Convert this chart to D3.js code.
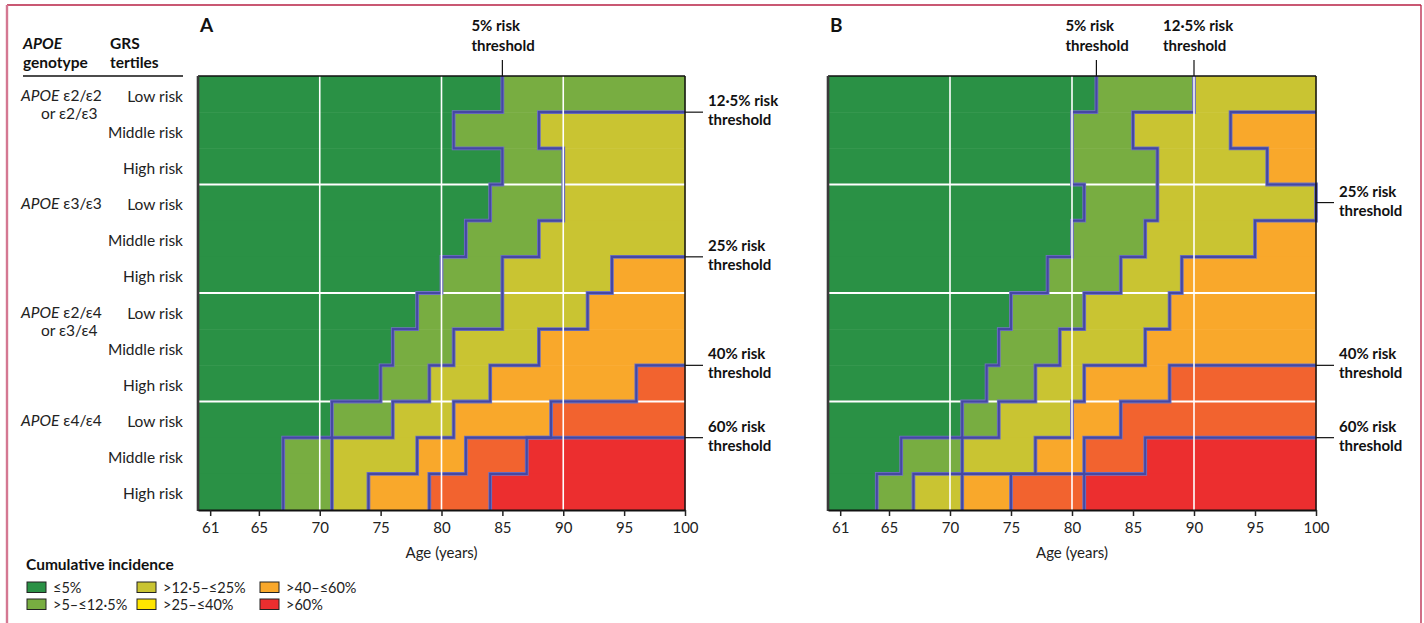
<!DOCTYPE html>
<html>
<head>
<meta charset="utf-8">
<script src="https://cdn.jsdelivr.net/npm/d3@7"></script>
<style>
  body { margin: 0; background: #fff; }
  svg { display: block; font-family: Lato, "Noto Sans", sans-serif; }
</style>
</head>
<body>
<svg id="chart" width="1424" height="623"></svg>
<script>
// ---- data -------------------------------------------------------------
const rowLabels = ["Low risk", "Middle risk", "High risk",
                   "Low risk", "Middle risk", "High risk",
                   "Low risk", "Middle risk", "High risk",
                   "Low risk", "Middle risk", "High risk"];
const genotypeRows = [0, 3, 6, 9];
const genotypeLine1 = ["ε2/ε2", "ε3/ε3", "ε2/ε4", "ε4/ε4"];
const genotypeLine2 = ["or ε2/ε3", "", "or ε3/ε4", ""];

const thresholdNames = ["5%", "12·5%", "25%", "40%", "60%"];
const ageTicks = [61, 65, 70, 75, 80, 85, 90, 95, 100];
const gridAges = [70, 80, 90];

// Age (years) at which cumulative incidence passes each threshold, per row.
// 100 means the threshold is not passed before age 100.
const panelA_t5   = [85, 81, 85, 84, 82, 80, 78, 76, 75, 71, 67, 67];
const panelA_t125 = [100, 88, 90, 90, 88, 85, 85, 81, 79, 76, 71, 71];
const panelA_t25  = [100, 100, 100, 100, 100, 94, 92, 88, 84, 81, 78, 74];
const panelA_t40  = [100, 100, 100, 100, 100, 100, 100, 100, 96, 89, 82, 79];
const panelA_t60  = [100, 100, 100, 100, 100, 100, 100, 100, 100, 100, 87, 84];

const panelB_t5   = [82, 80, 80, 81, 80, 78, 75, 74, 73, 71, 66, 64];
const panelB_t125 = [90, 85, 87, 87, 86, 84, 81, 79, 77, 74, 71, 67];
const panelB_t25  = [100, 93, 96, 100, 95, 89, 88, 86, 81, 80, 77, 71];
const panelB_t40  = [100, 100, 100, 100, 100, 100, 100, 100, 88, 84, 81, 75];
const panelB_t60  = [100, 100, 100, 100, 100, 100, 100, 100, 100, 100, 86, 81];

const bandColors = ["#2a9145", "#78ad41", "#c9c432", "#f9a82b", "#f2632f", "#ec2e2f"];

const legendLabels = ["≤5%", ">5–≤12·5%", ">12·5–≤25%", ">25–≤40%", ">40–≤60%", ">60%"];
const legendColors = ["#2a9145", "#78ad41", "#c9c432", "#ffe500", "#f9a82b", "#ec2e2f"];

// ---- drawing ----------------------------------------------------------
const svg = d3.select("#chart");

// figure frame
svg.append("line").attr("x1", 7).attr("x2", 1421).attr("y1", 5).attr("y2", 5)
  .attr("stroke", "#b72044").attr("stroke-width", 1.3);
svg.append("line").attr("x1", 7).attr("x2", 7).attr("y1", 5).attr("y2", 623)
  .attr("stroke", "#d47892").attr("stroke-width", 2.4);
svg.append("line").attr("x1", 1421).attr("x2", 1421).attr("y1", 5).attr("y2", 623)
  .attr("stroke", "#b72044").attr("stroke-width", 1.3);

function drawPanel(opts) {
  const { left, right, top, bottom, cross, title } = opts;
  const x = d3.scaleLinear().domain([60, 100]).range([left, right]);
  const y = d3.scaleBand().domain(d3.range(rowLabels.length)).range([top, bottom]);
  const bw = y.bandwidth();
  const g = svg.append("g");

  // coloured cells between consecutive threshold ages
  const cells = [];
  rowLabels.forEach((_, r) => {
    const edges = [60, ...cross.map(c => c[r]), 100];
    for (let k = 0; k < bandColors.length; k++) {
      if (edges[k + 1] > edges[k]) cells.push({ r, k, a0: edges[k], a1: edges[k + 1] });
    }
  });
  g.append("g").selectAll("rect").data(cells).join("rect")
    .attr("x", d => x(d.a0))
    .attr("width", d => x(d.a1) - x(d.a0) + 0.4)
    .attr("y", d => y(d.r))
    .attr("height", bw + 0.5)
    .attr("fill", d => bandColors[d.k]);

  // white separators between genotype groups
  g.append("g").selectAll("line").data(genotypeRows.slice(1)).join("line")
    .attr("x1", left).attr("x2", right)
    .attr("y1", d => y(d)).attr("y2", d => y(d))
    .attr("stroke", "#fff").attr("stroke-width", 2.2);

  // threshold contours (stepped)
  const contours = cross.map((vals, k) => {
    const first = vals.findIndex(v => v < 100);
    if (first < 0) return null;
    const pts = [];
    if (first === 0) pts.push([x(vals[0]), y(0)]);
    else pts.push([x(100), y(first)]);
    for (let r = first; r < vals.length; r++) {
      pts.push([x(vals[r]), y(r)]);
      pts.push([x(vals[r]), y(r) + bw]);
    }
    // where the label leader sits
    let anchor;
    if (first === 0) anchor = { side: "top", x: x(vals[0]) };
    else {
      const edgeRows = d3.range(first + 1, vals.length).filter(r => vals[r] >= 100);
      anchor = edgeRows.length
        ? { side: "right", y: y(edgeRows[edgeRows.length - 1]) + bw / 2 }
        : { side: "right", y: y(first) };
    }
    return { k, d: d3.line()(pts), anchor };
  }).filter(Boolean);

  const cg = g.append("g").attr("fill", "none").attr("stroke-linejoin", "miter");
  cg.selectAll("path.halo").data(contours).join("path").attr("class", "halo")
    .attr("d", d => d.d).attr("stroke", "#7174c2").attr("stroke-width", 3.8);
  cg.selectAll("path.core").data(contours).join("path").attr("class", "core")
    .attr("d", d => d.d).attr("stroke", "#4548a3").attr("stroke-width", 2.1);

  // white vertical grid lines
  g.append("g").selectAll("line").data(gridAges).join("line")
    .attr("x1", d => x(d)).attr("x2", d => x(d))
    .attr("y1", top).attr("y2", bottom)
    .attr("stroke", "#fff").attr("stroke-width", 1.6);

  // plot frame
  g.append("line").attr("x1", left).attr("x2", right).attr("y1", top).attr("y2", top)
    .attr("stroke", "#111").attr("stroke-width", 1.5);
  g.append("line").attr("x1", right).attr("x2", right).attr("y1", top).attr("y2", bottom)
    .attr("stroke", "#111").attr("stroke-width", 1.5);
  g.append("line").attr("x1", left).attr("x2", left).attr("y1", top).attr("y2", bottom + 1)
    .attr("stroke", "#3a3a3a").attr("stroke-width", 2.6);

  // x axis
  const axis = g.append("g").attr("transform", `translate(0,${bottom})`)
    .call(d3.axisBottom(x).tickValues(ageTicks).tickSize(6).tickPadding(6).tickSizeOuter(0));
  axis.select(".domain").attr("stroke", "#111").attr("stroke-width", 2);
  axis.selectAll(".tick line").attr("stroke", "#222").attr("stroke-width", 1.5);
  axis.selectAll(".tick text").attr("font-size", 15).attr("fill", "#222")
    .attr("font-family", "Lato, 'Noto Sans', sans-serif");

  g.append("text").attr("x", (left + right) / 2).attr("y", 558)
    .attr("text-anchor", "middle").attr("font-size", 15).attr("fill", "#222")
    .text("Age (years)");

  // panel letter
  g.append("text").attr("x", left + 2).attr("y", 32)
    .attr("font-size", 19).attr("font-weight", 700).attr("fill", "#111").text(title);

  // threshold labels with leaders
  contours.forEach(c => {
    const name = thresholdNames[c.k];
    if (c.anchor.side === "top") {
      g.append("line").attr("x1", c.anchor.x).attr("x2", c.anchor.x)
        .attr("y1", top - 16).attr("y2", top)
        .attr("stroke", "#111").attr("stroke-width", 1.2);
      const t = g.append("text").attr("font-size", 15).attr("font-weight", 700).attr("fill", "#111");
      t.append("tspan").attr("x", c.anchor.x - 31).attr("y", 31).text(`${name} risk`);
      t.append("tspan").attr("x", c.anchor.x - 31).attr("y", 51).text("threshold");
    } else {
      g.append("line").attr("x1", right).attr("x2", right + 18)
        .attr("y1", c.anchor.y).attr("y2", c.anchor.y)
        .attr("stroke", "#111").attr("stroke-width", 1.2);
      const t = g.append("text").attr("font-size", 15).attr("font-weight", 700).attr("fill", "#111");
      t.append("tspan").attr("x", right + 23).attr("y", c.anchor.y - 6).text(`${name} risk`);
      t.append("tspan").attr("x", right + 23).attr("y", c.anchor.y + 13).text("threshold");
    }
  });

  return { x, y };
}

const A = drawPanel({ left: 198, right: 685, top: 76, bottom: 510, title: "A",
  cross: [panelA_t5, panelA_t125, panelA_t25, panelA_t40, panelA_t60] });
drawPanel({ left: 828, right: 1316, top: 76, bottom: 510, title: "B",
  cross: [panelB_t5, panelB_t125, panelB_t25, panelB_t40, panelB_t60] });

// ---- row labels -------------------------------------------------------
const yRow = A.y;
const rowCenter = r => yRow(r) + yRow.bandwidth() / 2;
const lab = svg.append("g").attr("fill", "#222").attr("font-size", 15.5);

const head = lab.append("g").attr("font-weight", 700).attr("fill", "#111");
const h1 = head.append("text").attr("x", 23).attr("y", 49);
h1.append("tspan").attr("font-style", "italic").text("APOE");
head.append("text").attr("x", 23).attr("y", 68).text("genotype");
head.append("text").attr("x", 110).attr("y", 49).text("GRS");
head.append("text").attr("x", 110).attr("y", 68).text("tertiles");
lab.append("line").attr("x1", 23).attr("x2", 183).attr("y1", 76).attr("y2", 76)
  .attr("stroke", "#111").attr("stroke-width", 1.3);

lab.append("g").selectAll("text").data(rowLabels).join("text")
  .attr("x", 183).attr("y", (d, i) => rowCenter(i) + 7.5)
  .attr("text-anchor", "end").text(d => d);

genotypeRows.forEach((r, i) => {
  const t = lab.append("text").attr("x", 21).attr("y", rowCenter(r) + 6.5);
  t.append("tspan").attr("font-style", "italic").text("APOE");
  t.append("tspan").text(" " + genotypeLine1[i]);
  if (genotypeLine2[i]) {
    lab.append("text").attr("x", 41).attr("y", rowCenter(r) + 24.5).text(genotypeLine2[i]);
  }
});

// ---- legend -----------------------------------------------------------
const leg = svg.append("g");
leg.append("text").attr("x", 26).attr("y", 570).attr("font-size", 15.5)
  .attr("font-weight", 700).attr("fill", "#111").text("Cumulative incidence");
const legX = [27, 137, 260];
const legY = [582, 599];
const items = leg.selectAll("g.item").data(legendLabels).join("g").attr("class", "item")
  .attr("transform", (d, i) => `translate(${legX[Math.floor(i / 2)]},${legY[i % 2]})`);
items.append("rect").attr("width", 19).attr("height", 10.5)
  .attr("fill", (d, i) => legendColors[i]).attr("stroke", "#222").attr("stroke-width", 1);
items.append("text").attr("x", 26).attr("y", 10.5).attr("font-size", 14.5)
  .attr("fill", "#222").text(d => d);
</script>
</body>
</html>
